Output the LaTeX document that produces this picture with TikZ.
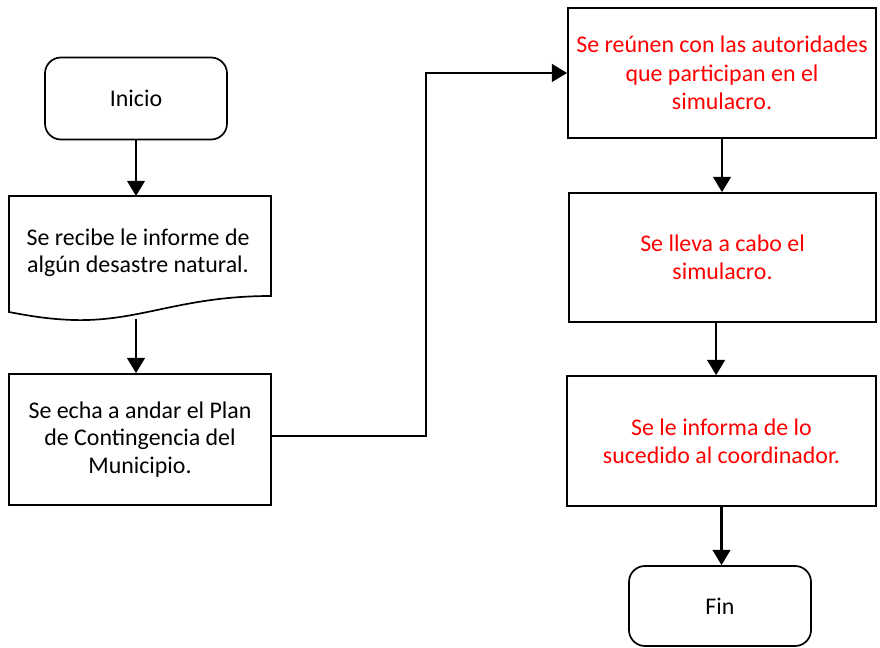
\documentclass[tikz,border=0pt]{standalone}
\usepackage{fontspec}
\setmainfont{Carlito}
\usepackage{xcolor}
\usepackage{tikz}
\usetikzlibrary{arrows.meta}
\definecolor{linea}{HTML}{000000}
\definecolor{rojo}{HTML}{FF0000}
\tikzset{
  caja/.style={draw=linea, line width=1.2pt, align=center, inner sep=0pt},
  terminal/.style={caja, rounded corners=0.4cm, minimum width=4.55cm, minimum height=2.05cm},
  proceso/.style={caja, minimum width=7.7cm, minimum height=3.25cm, text=rojo,
    font=\fontsize{17}{20.2}\selectfont},
  flecha/.style={draw=linea, line width=1.6pt, -{Triangle[length=0.38cm,width=0.44cm]}},
  every node/.style={font=\fontsize{17}{19.3}\selectfont}
}
\begin{document}
\begin{tikzpicture}[x=0.025cm, y=-0.025cm]
  \useasboundingbox (0,0) rectangle (880,648);

  \node[terminal] (inicio) at (136,98.5) {Inicio};

  \coordinate (recibe-t) at (136,196);
  \coordinate (recibe-b) at (136,319);
  \draw[line width=1.2pt] (9,196) -- (271,196) -- (271,296)
    .. controls (180,296) and (140,322) .. (73,320)
    .. controls (45,319) and (25,315) .. (9,312) -- cycle;
  \node[align=center] (recibe) at (138,253) {Se recibe le informe de\\algún desastre natural.};

  \node[caja, minimum width=6.55cm, minimum height=3.275cm] (plan) at (140,439.5)
    {Se echa a andar el Plan\\de Contingencia del\\Municipio.};

  \node[proceso] (reunen) at (722,73)
    {Se reúnen con las autoridades\\que participan en el\\simulacro.};
  \node[proceso, minimum width=7.675cm, minimum height=3.225cm] (simulacro) at (722.5,257.5)
    {Se lleva a cabo el\\simulacro.};
  \node[proceso, minimum width=7.725cm] (informa) at (721.5,441)
    {Se le informa de lo\\sucedido al coordinador.};

  \node[terminal, minimum height=2cm] (fin) at (720,606) {Fin};

  \coordinate (quiebre) at (426,0);

  \draw[flecha] (inicio.south) -- (recibe-t);
  \draw[flecha] (recibe-b) -- (recibe-b |- plan.north);
  \draw[flecha] ([yshift=0.08cm]plan.east) -- ([yshift=0.08cm]plan.east -| quiebre) |- (reunen.west);
  \draw[flecha] (reunen.south) -- (reunen.south |- simulacro.north);
  \draw[flecha] ([xshift=-0.16cm]simulacro.south) -- ([xshift=-0.16cm]simulacro.south |- informa.north);
  \draw[flecha] (informa.south) -- (informa.south |- fin.north);
\end{tikzpicture}
\end{document}
